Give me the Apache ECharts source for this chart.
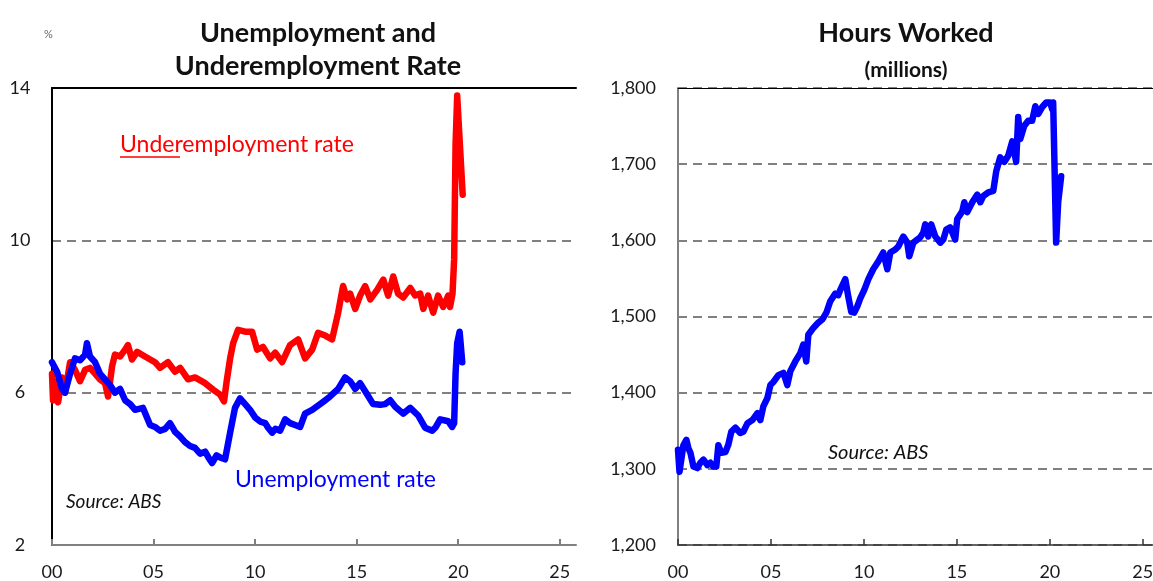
<!DOCTYPE html>
<html>
<head>
<meta charset="utf-8">
<script src="https://cdn.jsdelivr.net/npm/echarts@6/dist/echarts.min.js"></script>
<style>
html,body{margin:0;padding:0;background:#fff;}
#chart{width:1153px;height:581px;}
</style>
</head>
<body>
<div id="chart"></div>
<script>
// x values are years since 2000
const xTickLabels = ['00','05','10','15','20','25'];
const rateTicks = [2,6,10,14];
const hoursTicks = [1200,1300,1400,1500,1600,1700,1800];

const unemploymentRate = [
[0,6.8],[0.25,6.55],[0.49,6.1],[0.64,6.0],[0.89,6.5],[1.13,6.9],[1.38,6.85],[1.63,7.0],[1.72,7.3],[1.87,6.95],
[2.12,6.8],[2.36,6.5],[2.61,6.35],[2.86,6.2],[3.1,6.0],[3.35,6.1],[3.6,5.8],[3.85,5.7],[4.09,5.55],[4.48,5.6],
[4.83,5.15],[5.07,5.1],[5.32,5.0],[5.57,5.05],[5.81,5.2],[6.06,4.97],[6.3,4.85],[6.55,4.7],[6.8,4.6],[7.04,4.55],
[7.29,4.4],[7.54,4.45],[7.7,4.3],[7.88,4.15],[8.1,4.35],[8.28,4.3],[8.52,4.25],[8.77,4.95],[9.01,5.6],[9.26,5.85],
[9.51,5.7],[9.75,5.55],[10.0,5.35],[10.25,5.24],[10.5,5.2],[10.64,5.08],[10.84,4.95],[11.0,5.05],[11.23,5.0],[11.48,5.3],
[11.72,5.2],[11.97,5.15],[12.22,5.1],[12.46,5.45],[12.81,5.55],[13.2,5.7],[13.45,5.8],[13.69,5.9],[14.09,6.1],[14.43,6.4],
[14.68,6.3],[14.93,6.1],[15.17,6.25],[15.52,5.95],[15.81,5.7],[16.16,5.68],[16.4,5.7],[16.65,5.8],[16.9,5.63],[17.29,5.45],
[17.64,5.6],[18.03,5.4],[18.37,5.08],[18.72,5.0],[18.9,5.1],[19.11,5.3],[19.51,5.25],[19.7,5.1],[19.8,5.2],[19.87,6.5],
[19.95,7.3],[20.07,7.6],[20.2,6.8]
];

const underemploymentRate = [
[0,6.5],[0.05,5.8],[0.15,6.3],[0.3,5.75],[0.49,6.4],[0.64,6.0],[0.89,6.8],[1.13,6.6],[1.38,6.3],[1.63,6.6],
[1.87,6.65],[2.12,6.5],[2.36,6.35],[2.61,6.25],[2.76,5.9],[2.96,6.7],[3.1,7.0],[3.35,6.95],[3.6,7.13],[3.74,7.25],
[3.94,6.87],[4.19,7.07],[4.58,6.95],[5.07,6.8],[5.32,6.65],[5.71,6.8],[6.06,6.55],[6.31,6.65],[6.7,6.35],[7.04,6.4],
[7.54,6.25],[7.93,6.08],[8.28,5.95],[8.47,5.77],[8.6,6.3],[8.77,6.9],[8.92,7.3],[9.16,7.65],[9.51,7.6],[9.85,7.6],
[10.1,7.13],[10.39,7.2],[10.74,6.9],[10.99,7.05],[11.33,6.8],[11.72,7.25],[12.12,7.4],[12.46,6.9],[12.81,7.13],[13.1,7.57],
[13.45,7.5],[13.79,7.4],[14.09,8.1],[14.33,8.8],[14.53,8.45],[14.68,8.6],[14.93,8.2],[15.17,8.55],[15.42,8.8],[15.67,8.45],
[16.01,8.7],[16.31,8.97],[16.55,8.55],[16.8,9.05],[17.04,8.6],[17.29,8.5],[17.64,8.75],[17.88,8.55],[18.13,8.6],[18.28,8.2],
[18.52,8.55],[18.77,8.1],[19.01,8.55],[19.26,8.25],[19.51,8.55],[19.6,8.25],[19.72,8.6],[19.8,9.5],[19.87,12.5],[19.95,13.8],
[20.22,11.2]
];

const hoursWorked = [
[0,1325],[0.08,1296],[0.29,1331],[0.45,1338],[0.56,1327],[0.67,1321],[0.83,1303],[1.04,1301],[1.2,1308],[1.37,1312],
[1.58,1305],[1.74,1308],[1.9,1303],[2.06,1303],[2.17,1331],[2.33,1321],[2.55,1322],[2.71,1332],[2.87,1349],[3.09,1354],
[3.35,1347],[3.52,1349],[3.74,1360],[4.0,1364],[4.27,1373],[4.43,1364],[4.59,1382],[4.81,1393],[4.97,1410],[5.13,1414],
[5.4,1423],[5.67,1426],[5.88,1410],[6.04,1428],[6.31,1441],[6.58,1452],[6.74,1463],[6.9,1441],[7.01,1476],[7.28,1485],
[7.55,1492],[7.76,1496],[7.98,1505],[8.19,1520],[8.46,1530],[8.62,1528],[8.73,1535],[9.0,1549],[9.16,1526],[9.32,1506],
[9.48,1505],[9.64,1513],[9.81,1524],[10.02,1535],[10.24,1549],[10.5,1562],[10.77,1572],[11.04,1584],[11.26,1562],[11.42,1584],
[11.69,1588],[11.85,1592],[12.12,1605],[12.33,1597],[12.44,1579],[12.66,1597],[12.87,1601],[13.03,1604],[13.19,1610],[13.3,1621],
[13.46,1605],[13.62,1621],[13.84,1605],[14.11,1597],[14.27,1601],[14.43,1614],[14.64,1617],[14.91,1601],[15.02,1628],[15.29,1638],
[15.4,1650],[15.56,1637],[15.83,1650],[16.1,1660],[16.26,1650],[16.42,1658],[16.69,1663],[16.96,1665],[17.12,1691],[17.33,1709],
[17.55,1703],[17.76,1711],[17.98,1730],[18.19,1703],[18.3,1762],[18.41,1733],[18.62,1750],[18.84,1757],[19.05,1757],[19.22,1776],
[19.38,1766],[19.59,1775],[19.81,1781],[20.02,1781],[20.13,1772],[20.18,1781],[20.34,1597],[20.45,1650],[20.61,1684]
];

const FONT = 'Lato, "Open Sans", sans-serif';
const labelColor = '#1a1a1a';
const gridDash = {color:'#808080', width:2, type:[9,6]};
const xFmt = v => { const i = Math.round(v/5); return (Math.abs(v - i*5) < 1e-6 && xTickLabels[i] !== undefined) ? xTickLabels[i] : ''; };

const chart = echarts.init(document.getElementById('chart'), null, {renderer:'canvas'});
chart.setOption({
  animation:false,
  backgroundColor:'#fff',
  grid:[
    {left:52, top:88, width:524, height:457, containLabel:false, outerBoundsMode:'none'},
    {left:678, top:88, right:0, height:457, containLabel:false, outerBoundsMode:'none'}
  ],
  xAxis:[
    {type:'value', gridIndex:0, min:0, max:25.8, interval:5,
     axisLine:{show:true, lineStyle:{color:'#808080', width:2}},
     axisTick:{show:true, inside:true, length:6, lineStyle:{color:'#808080', width:2}},
     axisLabel:{formatter:xFmt, color:labelColor, fontSize:18, fontFamily:FONT, margin:18, showMaxLabel:false},
     splitLine:{show:false}},
    {type:'value', gridIndex:0, position:'top', min:0, max:25.8,
     axisLine:{show:true, lineStyle:{color:'#000', width:2}}, axisTick:{show:false}, axisLabel:{show:false}, splitLine:{show:false}},
    {type:'value', gridIndex:1, min:0, max:25.55, interval:5,
     axisLine:{show:true, lineStyle:{color:'#333', width:1.5}},
     axisTick:{show:true, inside:true, length:6, lineStyle:{color:'#333', width:1.5}},
     axisLabel:{formatter:xFmt, color:labelColor, fontSize:18, fontFamily:FONT, margin:18, showMaxLabel:false},
     splitLine:{show:false}},
    {type:'value', gridIndex:1, position:'top', min:0, max:25.55,
     axisLine:{show:true, lineStyle:{color:'#000', width:1}}, axisTick:{show:false}, axisLabel:{show:false}, splitLine:{show:false}}
  ],
  yAxis:[
    {type:'value', gridIndex:0, min:rateTicks[0], max:rateTicks[rateTicks.length-1], interval:4,
     axisLine:{show:true, lineStyle:{color:'#808080', width:2}}, axisTick:{show:false},
     axisLabel:{color:labelColor, fontSize:18, fontFamily:FONT, align:'center', margin:32},
     splitLine:{show:true, lineStyle:gridDash}},
    {type:'value', gridIndex:0, position:'right', min:2, max:14,
     axisLine:{show:true, lineStyle:{color:'#000', width:2}}, axisTick:{show:false}, axisLabel:{show:false}, splitLine:{show:false}},
    {type:'value', gridIndex:1, min:hoursTicks[0], max:hoursTicks[hoursTicks.length-1], interval:100,
     axisLine:{show:true, lineStyle:{color:'#808080', width:2}}, axisTick:{show:false},
     axisLabel:{color:labelColor, fontSize:18, fontFamily:FONT, margin:22,
       formatter:v => v.toLocaleString('en-US')},
     splitLine:{show:true, lineStyle:gridDash}}
  ],
  series:[
    {type:'line', xAxisIndex:0, yAxisIndex:0, data:underemploymentRate, showSymbol:false, symbol:'none',
     lineStyle:{color:'#ff0000', width:6.5, cap:'round', join:'round'}, z:3},
    {type:'line', xAxisIndex:0, yAxisIndex:0, data:unemploymentRate, showSymbol:false, symbol:'none',
     lineStyle:{color:'#0000ff', width:6.5, cap:'round', join:'round'}, z:4},
    {type:'line', xAxisIndex:2, yAxisIndex:2, data:hoursWorked, showSymbol:false, symbol:'none',
     lineStyle:{color:'#0000ff', width:6.5, cap:'round', join:'round'}, z:3}
  ],
  graphic:[
    {type:'text', style:{text:'Unemployment and', x:318, y:33, align:'center', verticalAlign:'middle', font:'bold 27px '+FONT, fill:'#111'}},
    {type:'text', style:{text:'Underemployment Rate', x:318, y:66, align:'center', verticalAlign:'middle', font:'bold 27px '+FONT, fill:'#111'}},
    {type:'text', style:{text:'Hours Worked', x:906, y:33, align:'center', verticalAlign:'middle', font:'bold 27px '+FONT, fill:'#111'}},
    {type:'text', style:{text:'(millions)', x:906, y:70, align:'center', verticalAlign:'middle', font:'bold 21px '+FONT, fill:'#111'}},
    {type:'text', style:{text:'%', x:44, y:34, verticalAlign:'middle', font:'11px '+FONT, fill:'#666'}},
    {type:'text', style:{text:'Underemployment rate', x:120, y:145, verticalAlign:'middle', font:'23px '+FONT, fill:'#ff0000'}},
    {type:'line', shape:{x1:120, y1:157, x2:180, y2:157}, style:{stroke:'#ff0000', lineWidth:1.5}},
    {type:'text', style:{text:'Unemployment rate', x:235, y:480, verticalAlign:'middle', font:'23px '+FONT, fill:'#0000ff'}},
    {type:'text', style:{text:'Source: ABS', x:66, y:502, verticalAlign:'middle', font:'italic 19px '+FONT, fill:'#111'}},
    {type:'text', style:{text:'Source: ABS', x:828, y:453, verticalAlign:'middle', font:'italic 20px '+FONT, fill:'#111'}}
  ]
});
</script>
</body>
</html>
